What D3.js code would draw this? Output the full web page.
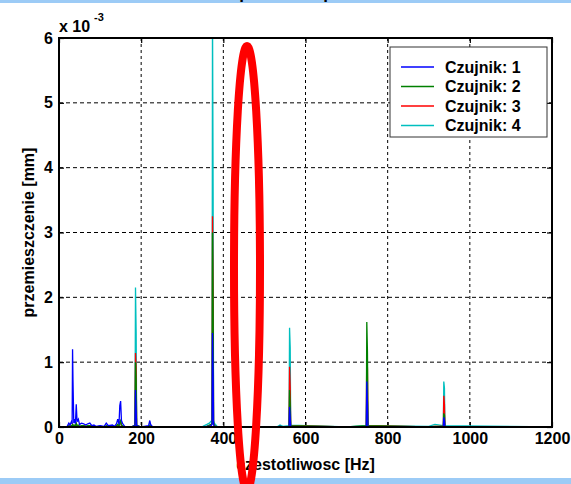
<!DOCTYPE html>
<html>
<head>
<meta charset="utf-8">
<script src="https://cdn.jsdelivr.net/npm/d3@7"></script>
<style>
body { margin: 0; background: #fff; }
svg text { font-family: "Liberation Sans", Arial, Helvetica, sans-serif; font-weight: bold; }
</style>
</head>
<body>
<svg width="571" height="484"></svg>
<script>
// frequency bins [Hz]
var freq = [
  0, 20, 24, 27, 30, 32, 33, 34, 36, 38,
  40, 42, 44, 47, 50, 55, 60, 65, 70, 75,
  80, 85, 90, 100, 110, 115, 120, 130, 135, 140,
  143, 146, 148, 150, 152, 155, 160, 175, 185, 186.2,
  187.8, 189, 200, 218, 221, 223, 228, 350, 360, 366,
  370, 372.6, 373.6, 375.2, 376.2, 378, 385, 530, 538, 545,
  560, 561.2, 562.8, 564, 700, 748, 749.2, 750.8, 752, 900,
  915, 935.5, 936.6, 938.2, 939.3, 1200
];

// displacement, x 10^-3 mm
var czujnik1 = [
  0, 0.01, 0.06, 0.03, 0.08, 0.05, 1.20, 0.73, 0.06, 0.12,
  0.05, 0.35, 0.08, 0.12, 0.04, 0.06, 0.05, 0.03, 0.05, 0.06,
  0.02, 0.03, 0.01, 0.02, 0.01, 0.06, 0.02, 0.03, 0.01, 0.05,
  0.12, 0.04, 0.33, 0.40, 0.10, 0.05, 0.01, 0, 0.02, 0.57,
  0.26, 0.02, 0, 0.02, 0.10, 0.04, 0, 0, 0.01, 0.01,
  0.02, 0.04, 1.45, 0.83, 0.04, 0.01, 0, 0, 0.01, 0,
  0.01, 0.31, 0.15, 0.01, 0, 0.01, 0.70, 0.35, 0.01, 0,
  0, 0.01, 0.15, 0.10, 0.01, 0
];
var czujnik2 = [
  0, 0, 0.02, 0.01, 0.02, 0.01, 0.05, 0.03, 0.02, 0.03,
  0.02, 0.06, 0.02, 0.03, 0.01, 0.02, 0.02, 0.01, 0.02, 0.02,
  0.01, 0.01, 0, 0.01, 0, 0.02, 0.01, 0.01, 0, 0.02,
  0.04, 0.01, 0.08, 0.10, 0.03, 0.02, 0, 0, 0.02, 1.00,
  0.73, 0.02, 0, 0.01, 0.03, 0.01, 0, 0, 0.01, 0.03,
  0.04, 0.06, 3.00, 1.75, 0.08, 0.02, 0, 0, 0.01, 0,
  0.01, 0.57, 0.35, 0.02, 0, 0.02, 1.62, 1.15, 0.02, 0,
  0.01, 0.01, 0.21, 0.18, 0.01, 0
];
var czujnik3 = [
  0, 0, 0.02, 0.01, 0.02, 0.01, 0.04, 0.02, 0.01, 0.02,
  0.01, 0.05, 0.02, 0.02, 0.01, 0.01, 0.02, 0.01, 0.01, 0.02,
  0.01, 0.01, 0, 0.01, 0, 0.01, 0.01, 0.01, 0, 0.02,
  0.03, 0.01, 0.07, 0.09, 0.02, 0.01, 0, 0, 0.02, 1.14,
  0.90, 0.02, 0, 0.01, 0.02, 0.01, 0, 0, 0.01, 0.02,
  0.03, 0.05, 3.25, 1.89, 0.06, 0.02, 0, 0, 0.01, 0,
  0.01, 0.93, 0.60, 0.02, 0, 0.01, 1.15, 0.90, 0.02, 0,
  0.01, 0.01, 0.48, 0.35, 0.01, 0
];
var czujnik4 = [
  0, 0, 0.01, 0.01, 0.01, 0.01, 0.03, 0.02, 0.01, 0.02,
  0.01, 0.04, 0.01, 0.02, 0.01, 0.01, 0.01, 0.01, 0.01, 0.01,
  0.01, 0, 0, 0.01, 0, 0.01, 0.01, 0.01, 0, 0.02,
  0.03, 0.01, 0.06, 0.08, 0.02, 0.01, 0, 0, 0.03, 2.15,
  1.45, 0.03, 0, 0.01, 0.02, 0.01, 0, 0.01, 0.04, 0.06,
  0.09, 0.07, 6.50, 3.50, 0.10, 0.06, 0.01, 0, 0.03, 0.01,
  0.02, 1.53, 1.22, 0.03, 0, 0.02, 0.50, 0.40, 0.02, 0.01,
  0.04, 0.02, 0.70, 0.60, 0.02, 0
];

var seriesNames = ["Czujnik: 1", "Czujnik: 2", "Czujnik: 3", "Czujnik: 4"];
var seriesColors = ["#0000ff", "#008000", "#ff0000", "#00bfbf"];
var xTicks = [0, 200, 400, 600, 800, 1000, 1200];
var yTicks = [0, 1, 2, 3, 4, 5, 6];

var svg    = d3.select("svg"),
    W      = +svg.attr("width"),
    H      = +svg.attr("height");

var margin = {top: 38, right: 19, bottom: 57, left: 59},
    width  = W - margin.left - margin.right,
    height = H - margin.top - margin.bottom;

// screenshot frame strips
svg.append("rect").attr("x", 0).attr("y", 0).attr("width", W).attr("height", 3).attr("fill", "#9ccbf6");
svg.append("rect").attr("x", 0).attr("y", 478).attr("width", W).attr("height", 6).attr("fill", "#9ccbf6");

// title, mostly above the visible frame
svg.append("text")
  .attr("x", margin.left + width / 2).attr("y", -1)
  .attr("text-anchor", "middle").attr("font-size", 17)
  .text("Widmo amplitudowe przemieszczenia");

svg.append("defs").append("clipPath")
    .attr("id", "clip")
  .append("rect")
    .attr("width", width)
    .attr("height", height);

var g = svg.append("g")
  .attr("transform", "translate(" + margin.left + "," + margin.top + ")");

var xScale = d3.scaleLinear().domain([0, 1200]).range([0, width]);
var yScale = d3.scaleLinear().domain([0, 6]).range([height, 0]);

// grid
g.append("g").selectAll("line")
  .data(xTicks.slice(1, -1)).enter().append("line")
    .attr("x1", function(d) { return xScale(d) }).attr("x2", function(d) { return xScale(d) })
    .attr("y1", 0).attr("y2", height)
    .attr("stroke", "#000").attr("stroke-width", 1).attr("stroke-dasharray", "3,3");
g.append("g").selectAll("line")
  .data(yTicks.slice(1, -1)).enter().append("line")
    .attr("y1", function(d) { return yScale(d) }).attr("y2", function(d) { return yScale(d) })
    .attr("x1", 0).attr("x2", width)
    .attr("stroke", "#000").attr("stroke-width", 1).attr("stroke-dasharray", "4,3");

// axes, ticks pointing inwards
var fmt = d3.format("d");
var xAxis = d3.axisBottom(xScale).tickValues(xTicks).tickFormat(fmt).tickSizeInner(-5).tickSizeOuter(0).tickPadding(6);
var yAxis = d3.axisLeft(yScale).tickValues(yTicks).tickFormat(fmt).tickSizeInner(-5).tickSizeOuter(0).tickPadding(6);

var gX = g.append("g").attr("transform", "translate(0," + height + ")").call(xAxis);
var gY = g.append("g").call(yAxis);
g.append("g").call(d3.axisTop(xScale).tickValues(xTicks).tickSizeInner(-5).tickSizeOuter(0).tickFormat(""));
g.append("g").attr("transform", "translate(" + width + ",0)")
  .call(d3.axisRight(yScale).tickValues(yTicks).tickSizeInner(-5).tickSizeOuter(0).tickFormat(""));

g.selectAll(".domain").remove();
g.selectAll(".tick line").attr("stroke", "#000").attr("stroke-width", 1.2);
g.selectAll(".tick text").attr("font-size", 16).attr("fill", "#000")
  .attr("font-family", "Liberation Sans, Arial, sans-serif").attr("font-weight", "bold");

// spectra, sensor 1 drawn last
var line = d3.line()
  .x(function(d) { return xScale(d[0]) })
  .y(function(d) { return yScale(d[1]) });

var allSeries = [czujnik1, czujnik2, czujnik3, czujnik4];
var lines_g = g.append("g").attr("clip-path", "url(#clip)");
for (var i = allSeries.length - 1; i >= 0; i--) {
  lines_g.append("path")
    .datum(d3.zip(freq, allSeries[i]))
    .attr("d", line)
    .attr("fill", "none")
    .attr("stroke", seriesColors[i])
    .attr("stroke-width", 1.3);
}

// box
g.append("rect").attr("width", width).attr("height", height)
  .attr("fill", "none").attr("stroke", "#000").attr("stroke-width", 2);

// exponent
svg.append("text").attr("x", 59).attr("y", 32).attr("font-size", 16).text("x 10");
svg.append("text").attr("x", 94).attr("y", 21).attr("font-size", 11).text("-3");

// axis labels
svg.append("text")
  .attr("x", margin.left + width / 2).attr("y", 470)
  .attr("text-anchor", "middle").attr("font-size", 16)
  .text("czestotliwosc [Hz]");
svg.append("text")
  .attr("transform", "rotate(-90)")
  .attr("x", -(margin.top + height / 2)).attr("y", 34)
  .attr("text-anchor", "middle").attr("font-size", 16)
  .text("przemieszczenie [mm]");

// legend
var legend = svg.append("g").attr("transform", "translate(390,47)");
legend.append("rect").attr("width", 157).attr("height", 90)
  .attr("fill", "#fff").attr("stroke", "#333").attr("stroke-width", 1);
var items = legend.selectAll(".item").data(seriesNames).enter().append("g")
  .attr("class", "item")
  .attr("transform", function(d, i) { return "translate(0," + (20 + i * 19.5) + ")" });
items.append("line").attr("x1", 11).attr("x2", 44)
  .attr("stroke", function(d, i) { return seriesColors[i] }).attr("stroke-width", 1.5);
items.append("text").attr("x", 55).attr("dy", "0.35em").attr("font-size", 16).text(function(d) { return d });

// red marker ellipse
svg.append("ellipse")
  .attr("cx", 247).attr("cy", 268).attr("rx", 13).attr("ry", 222)
  .attr("fill", "none").attr("stroke", "#ff0000").attr("stroke-width", 8);
</script>
</body>
</html>
